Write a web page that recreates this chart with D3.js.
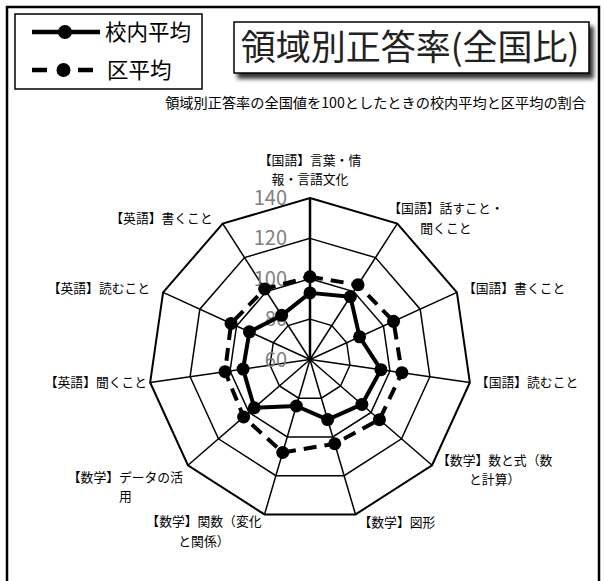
<!DOCTYPE html>
<html>
<head>
<meta charset="utf-8">
<script src="https://cdn.jsdelivr.net/npm/d3@7.9.0/dist/d3.min.js"></script>
<style>
  body { margin: 0; background: #fff; }
  svg { display: block; font-family: "Noto Sans CJK JP", "Noto Sans", sans-serif; }
</style>
</head>
<body>
<svg id="chart" width="604" height="581"></svg>
<script>
// categories (one entry per axis, wrapped as in the original)
const categories = [
  ['【国語】言葉・情', '報・言語文化'],
  ['【国語】話すこと・', '聞くこと'],
  ['【国語】書くこと'],
  ['【国語】読むこと'],
  ['【数学】数と式（数', 'と計算）'],
  ['【数学】図形'],
  ['【数学】関数（変化', 'と関係）'],
  ['【数学】データの活', '用'],
  ['【英語】聞くこと'],
  ['【英語】読むこと'],
  ['【英語】書くこと']
];
const schoolAvg = [93, 97, 87, 95.5, 94, 91, 84, 96.5, 93.5, 93, 86];
const districtAvg = [101, 104, 105.5, 106, 105.5, 103.5, 108, 103.5, 102.5, 103, 101.5];
const ringTicks = [60, 80, 100, 120, 140];
const seriesNames = ['校内平均', '区平均'];
const titleText = '領域別正答率(全国比)';
const subtitleText = '領域別正答率の全国値を100としたときの校内平均と区平均の割合';

// label nudges away from the outer vertex [dx, dy] (layout only)
const labelNudge = [[0, -28], [-9, -5], [6, -4], [6, 0], [5, 5], [3, 8], [-3, 17], [-5, 22], [-3, 0], [-13, -4], [-10, -5]];

const svg = d3.select('#chart');
const cx = 310, cy = 359.5, R = 161.5;
const n = categories.length;

const rScale = d3.scaleLinear().domain([60, 140]).range([0, R]);
const angle = (i) => i * 2 * Math.PI / n;
const pt = (i, v) => [cx + rScale(v) * Math.sin(angle(i)), cy - rScale(v) * Math.cos(angle(i))];

// drop shadow for the title box
const defs = svg.append('defs');
defs.append('filter').attr('id', 'shadow').attr('x', '-10%').attr('y', '-20%').attr('width', '130%').attr('height', '160%')
  .append('feDropShadow').attr('dx', 4).attr('dy', 5).attr('stdDeviation', 2).attr('flood-color', '#000').attr('flood-opacity', 0.8);

// outer frame
svg.append('rect').attr('x', 7).attr('y', 7).attr('width', 592).attr('height', 590)
  .attr('fill', '#fff').attr('stroke', '#000').attr('stroke-width', 2.5);

// grid rings
const idx = d3.range(n);
const grid = svg.append('g').attr('class', 'grid');
ringTicks.filter(t => t > 60).forEach(t => {
  grid.append('polygon')
    .attr('points', idx.map(i => pt(i, t).join(',')).join(' '))
    .attr('fill', 'none').attr('stroke', '#000').attr('stroke-width', t === 140 ? 2 : 1.5);
});
// spokes
grid.selectAll('line').data(idx).join('line')
  .attr('x1', cx).attr('y1', cy)
  .attr('x2', i => pt(i, 140)[0]).attr('y2', i => pt(i, 140)[1])
  .attr('stroke', '#000').attr('stroke-width', i => i === 0 ? 2.5 : 1.5);

// ring value labels
svg.append('g').selectAll('text').data(ringTicks).join('text')
  .attr('x', cx - 23).attr('y', t => cy - rScale(t))
  .attr('dy', '0.35em').attr('text-anchor', 'end')
  .attr('font-size', 20).attr('fill', '#808080')
  .text(d => d);

// category labels
const labels = svg.append('g').attr('class', 'cat-labels');
categories.forEach((lines, i) => {
  const [vx, vy] = pt(i, 140);
  const s = Math.sin(angle(i));
  const side = Math.abs(s) < 0.1 ? 0 : (s > 0 ? 1 : -1);
  const g = labels.append('g');
  const lh = 19.5;
  const texts = g.selectAll('text').data(lines).join('text')
    .attr('font-size', 12.8).attr('fill', '#000').attr('text-anchor', 'middle')
    .attr('dy', '0.35em')
    .attr('y', (d, k) => (k - (lines.length - 1) / 2) * lh)
    .text(d => d);
  let w = 0;
  texts.each(function () { w = Math.max(w, this.getComputedTextLength()); });
  const bx = vx + labelNudge[i][0] + side * w / 2;
  const by = vy + labelNudge[i][1];
  g.attr('transform', `translate(${bx},${by})`);
});

// series
const lineGen = d3.line().curve(d3.curveLinearClosed);
function drawSeries(values, dash) {
  const g = svg.append('g');
  g.append('path')
    .attr('d', lineGen(values.map((v, i) => pt(i, v))))
    .attr('fill', 'none').attr('stroke', '#000').attr('stroke-width', 4)
    .attr('stroke-linejoin', 'round')
    .attr('stroke-dasharray', dash);
  g.selectAll('circle').data(values).join('circle')
    .attr('cx', (v, i) => pt(i, v)[0]).attr('cy', (v, i) => pt(i, v)[1])
    .attr('r', 6.5).attr('fill', '#000');
}
drawSeries(districtAvg, '13,8');
drawSeries(schoolAvg, null);

// legend
const legend = svg.append('g');
legend.append('rect').attr('x', 15).attr('y', 14).attr('width', 187).attr('height', 75)
  .attr('fill', '#fff').attr('stroke', '#000').attr('stroke-width', 1.5);
const legendY = [32, 70];
legend.selectAll('line').data(seriesNames).join('line')
  .attr('x1', 32).attr('x2', (d, i) => i === 0 ? 100 : 93)
  .attr('y1', (d, i) => legendY[i]).attr('y2', (d, i) => legendY[i])
  .attr('stroke', '#000').attr('stroke-width', 4.5)
  .attr('stroke-dasharray', (d, i) => i === 1 ? '15,31' : null);
legend.selectAll('circle').data(seriesNames).join('circle')
  .attr('cx', (d, i) => i === 0 ? 65 : 63.5).attr('cy', (d, i) => legendY[i]).attr('r', 7).attr('fill', '#000');
legend.selectAll('text').data(seriesNames).join('text')
  .attr('x', (d, i) => i === 0 ? 105 : 107).attr('y', (d, i) => legendY[i]).attr('dy', '0.35em')
  .attr('font-size', 21.5).attr('fill', '#000')
  .text(d => d);

// title box
svg.append('rect').attr('x', 234).attr('y', 22).attr('width', 355).attr('height', 51)
  .attr('fill', '#fff').attr('stroke', '#000').attr('stroke-width', 1.5)
  .attr('filter', 'url(#shadow)');
svg.append('text').attr('x', 410).attr('y', 48).attr('dy', '0.35em')
  .attr('text-anchor', 'middle').attr('font-size', 35).attr('fill', '#222')
  .text(titleText);

// subtitle
svg.append('text').attr('x', 586).attr('y', 103).attr('dy', '0.35em')
  .attr('text-anchor', 'end').attr('font-size', 14.2).attr('fill', '#000')
  .text(subtitleText);
</script>
</body>
</html>
